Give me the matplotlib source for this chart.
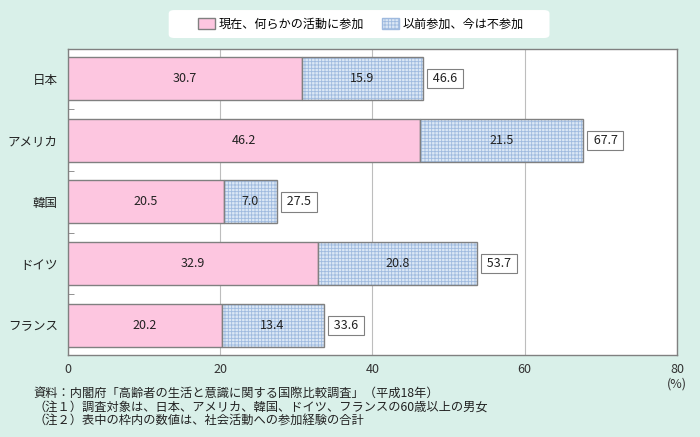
import matplotlib.pyplot as plt
from matplotlib.patches import FancyBboxPatch, Patch
import numpy as np

plt.rcParams['font.family'] = ['Noto Sans CJK JP', 'DejaVu Sans']
plt.rcParams['hatch.linewidth'] = 0.6

countries = ['日本', 'アメリカ', '韓国', 'ドイツ', 'フランス']
current = [30.7, 46.2, 20.5, 32.9, 20.2]
past = [15.9, 21.5, 7.0, 20.8, 13.4]
total = [46.6, 67.7, 27.5, 53.7, 33.6]
labels = ['現在、何らかの活動に参加', '以前参加、今は不参加']
notes = ['資料：内閣府「高齢者の生活と意識に関する国際比較調査」（平成18年）',
         '（注１）調査対象は、日本、アメリカ、韓国、ドイツ、フランスの60歳以上の男女',
         '（注２）表中の枠内の数値は、社会活動への参加経験の合計']

bg = '#d9f0e9'
pink = '#fdc6e0'
blue = '#dbe7f5'
hatch_c = '#9fbadf'
edge = '#808080'

fig = plt.figure(figsize=(7, 4.37), dpi=100, facecolor=bg)
ax = fig.add_axes([0.0967, 0.1876, 0.8704, 0.700])
ax.set_facecolor('white')

y = np.arange(len(countries))
h = 0.70
ax.barh(y, current, height=h, color=pink, edgecolor=edge, linewidth=1, zorder=3)
ax.barh(y, past, left=current, height=h, color=blue, edgecolor=hatch_c,
        hatch='+++++', linewidth=0, zorder=3)
ax.barh(y, past, left=current, height=h, color='none', edgecolor=edge,
        linewidth=1, zorder=4)

for i in range(len(countries)):
    ax.text(current[i] / 2, y[i], f'{current[i]:.1f}', ha='center', va='center',
            fontsize=9, color='#222222', zorder=5)
    ax.text(current[i] + past[i] / 2, y[i], f'{past[i]:.1f}', ha='center',
            va='center', fontsize=9, color='#222222', zorder=5)
    ax.text(total[i] + 0.95, y[i], f' {total[i]:.1f} ', ha='left', va='center',
            fontsize=9, color='#222222', zorder=5,
            bbox=dict(boxstyle='square,pad=0.25', fc='white', ec=edge, lw=0.8))

ax.set_xlim(0, 80)
ax.set_ylim(4.485, -0.48)
ax.set_xticks([0, 20, 40, 60, 80])
ax.set_xticklabels(['0', '20', '40', '60', '80'], fontsize=9, color='#333333')
ax.set_yticks(y)
ax.set_yticklabels(countries, fontsize=9, color='#222222')
ax.set_yticks(np.arange(0.5, 4.0, 1.0), minor=True)
ax.tick_params(axis='y', which='major', length=0, pad=7)
ax.tick_params(axis='y', which='minor', length=4, direction='in', color=edge)
ax.tick_params(axis='x', length=0, pad=6)
ax.grid(axis='x', color='#bdbdbd', linewidth=0.8, zorder=0)
for s in ax.spines.values():
    s.set_color(edge)
    s.set_linewidth(1)

ax.text(1.0, -0.095, '(%)', transform=ax.transAxes, ha='center', va='center',
        fontsize=9, color='#333333')

# legend box
box = FancyBboxPatch((0.241, 0.913), 0.544, 0.064, transform=fig.transFigure,
                     boxstyle='round,pad=0,rounding_size=0.008', fc='white',
                     ec='none', zorder=1)
fig.patches.append(box)
handles = [Patch(facecolor=pink, edgecolor=edge),
           Patch(facecolor=blue, edgecolor=hatch_c, hatch='+++++')]
fig.legend(handles, labels, loc='center', bbox_to_anchor=(0.516, 0.945),
           ncol=2, frameon=False, fontsize=8.7, handlelength=1.4,
           handleheight=1.0, columnspacing=1.5, handletextpad=0.3)

for k, note in enumerate(notes):
    fig.text(0.048, 1 - (393 + k * 14) / 437, note, fontsize=8.8,
             color='#222222', va='center', ha='left')

fig.savefig('out.png', dpi=100, facecolor=bg)
